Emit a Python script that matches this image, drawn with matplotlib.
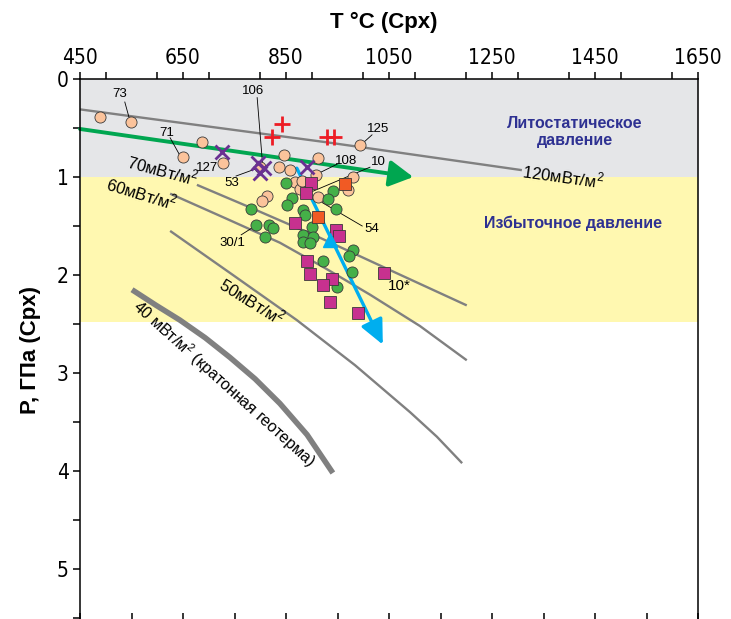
import numpy as np
import matplotlib.pyplot as plt
from matplotlib import font_manager
from matplotlib.ticker import MultipleLocator

plt.rcParams['font.family'] = ['Liberation Sans', 'DejaVu Sans']
plt.rcParams['mathtext.fontset'] = 'custom'
plt.rcParams['mathtext.rm'] = 'Liberation Sans'

# --- geotherms (T, C ; P, GPa) ---
g120_t = [450, 935, 1308]
g120_p = [0.31, 0.65, 0.93]
g70_t = [677, 780, 916, 1052, 1201]
g70_p = [1.08, 1.31, 1.62, 1.95, 2.31]
g60_t = [625, 732, 838, 926, 1013, 1110, 1201]
g60_p = [1.17, 1.42, 1.67, 1.93, 2.20, 2.52, 2.87]
g50_t = [625, 747, 871, 984, 1091, 1143, 1192]
g50_p = [1.55, 2.00, 2.46, 2.92, 3.40, 3.65, 3.92]
g40_t = [551, 598, 644, 693, 741, 790, 838, 891, 941]
g40_p = [2.15, 2.31, 2.46, 2.64, 2.84, 3.06, 3.31, 3.63, 4.02]

# --- samples ---
peach_t = [489, 549, 687, 650, 728, 800, 846, 836, 858, 912, 867, 908, 877,
           912, 813, 803, 994, 980, 970, 881]
peach_p = [0.39, 0.44, 0.64, 0.80, 0.86, 0.90, 0.78, 0.90, 0.93, 0.81, 1.05,
           0.98, 1.12, 1.20, 1.19, 1.24, 0.67, 1.00, 1.13, 1.04]
green_t = [850, 862, 852, 883, 887, 782, 792, 817, 825, 809, 941, 932, 947,
           900, 883, 902, 883, 897, 980, 972, 922, 978, 949]
green_p = [1.06, 1.21, 1.29, 1.34, 1.39, 1.33, 1.49, 1.49, 1.52, 1.61, 1.14,
           1.22, 1.33, 1.51, 1.59, 1.61, 1.66, 1.67, 1.74, 1.81, 1.86, 1.97,
           2.12]
mag_t = [899, 889, 867, 947, 953, 891, 897, 939, 922, 935, 990, 1040]
mag_p = [1.06, 1.16, 1.47, 1.54, 1.60, 1.86, 1.99, 2.04, 2.10, 2.28, 2.39,
         1.98]
orsq_t = [965, 912]
orsq_p = [1.07, 1.41]
plus_t = [842, 823, 930, 943]
plus_p = [0.46, 0.59, 0.59, 0.59]
xm_t = [726, 796, 807, 800, 891]
xm_p = [0.745, 0.86, 0.91, 0.96, 0.90]
tri_t = [935]
tri_p = [1.64]

# trends
green_arrow = [(450, 0.51), (1097, 1.00)]
blue_arrow = [(871, 0.91), (1038, 2.71)]

# sample labels: text, label pos, leader start, leader end
lab_txt = ['73', '71', '127', '106', '53', '125', '108', '10', '54', '30/1', '10*']
lab_t = [528, 619, 697, 786, 745, 1029, 966, 1029, 1017, 745, 1070]
lab_p = [0.15, 0.55, 0.91, 0.12, 1.06, 0.51, 0.84, 0.85, 1.53, 1.67, 2.11]
lab_fs = [9.5] * 10 + [11]
lead = [((537, 0.235), (545, 0.388)),
        ((625, 0.60), (644, 0.78)),
        None,
        ((794, 0.19), (805, 0.90)),
        ((753, 0.99), (800, 0.90)),
        ((1017, 0.57), (998, 0.66)),
        ((949, 0.87), (914, 0.96)),
        ((1013, 0.90), (900, 1.15)),
        ((998, 1.50), (920, 1.26)),
        ((763, 1.59), (790, 1.50)),
        None]

fig = plt.figure(figsize=(7.31, 6.19), dpi=100)
ax = fig.add_axes([80 / 731, -1 / 619, 618 / 731, 541 / 619])
ax.set_xlim(450, 1650)
ax.set_ylim(5.52, 0)

ax.axhspan(0, 1, color='#e5e6e8', lw=0, zorder=0)
ax.axhspan(1, 2.48, color='#fff8b0', lw=0, zorder=0)

gc = '#808080'
for t, p in [(g120_t, g120_p), (g70_t, g70_p), (g60_t, g60_p), (g50_t, g50_p)]:
    ax.plot(t, p, color=gc, lw=1.7, zorder=1, solid_capstyle='butt')
ax.plot(g40_t, g40_p, color=gc, lw=4, zorder=1, solid_capstyle='butt')

ax.text(1388, 0.99, '120мВт/м$^2$', fontsize=12, rotation=-8, ha='center', va='center')
ax.text(611, 0.93, '70мВт/м$^2$', fontsize=12, rotation=-15, ha='center', va='center')
ax.text(570, 1.17, '60мВт/м$^2$', fontsize=12, rotation=-17, ha='center', va='center')
ax.text(784, 2.26, '50мВт/м$^2$', fontsize=12, rotation=-32, ha='center', va='center')
ax.text(730, 3.11, '40 мВт/м$^2$ (кратонная геотерма)', fontsize=11.5, rotation=-42,
        ha='center', va='center')

ax.text(1411, 0.54, 'Литостатическое\nдавление', fontsize=11.5, fontweight='bold',
        color='#2e3192', ha='center', va='center', linespacing=1.2)
ax.text(1407, 1.47, 'Избыточное давление', fontsize=11.5, fontweight='bold',
        color='#2e3192', ha='center', va='center')

# arrows
ax.annotate('', xy=green_arrow[1], xytext=green_arrow[0],
            arrowprops=dict(arrowstyle='-|>,head_length=1.45,head_width=0.8',
                            mutation_scale=10, lw=2.8, color='#00a650',
                            shrinkA=0, shrinkB=0), zorder=2)
ax.annotate('', xy=blue_arrow[1], xytext=blue_arrow[0],
            arrowprops=dict(arrowstyle='-|>,head_length=1.5,head_width=0.7',
                            mutation_scale=10, lw=2.4, color='#00aeef',
                            shrinkA=0, shrinkB=0), zorder=2)

for txt, t, p, fs, ld in zip(lab_txt, lab_t, lab_p, lab_fs, lead):
    ax.text(t, p, txt, fontsize=fs, ha='center', va='center', zorder=6)
    if ld:
        ax.plot([ld[0][0], ld[1][0]], [ld[0][1], ld[1][1]], color='k', lw=0.6, zorder=2)

ec = '#3a3a3a'
ax.plot(peach_t, peach_p, 'o', ms=8, mfc='#fbc39b', mec=ec, mew=0.6, zorder=3)
ax.plot(green_t, green_p, 'o', ms=8, mfc='#45b048', mec=ec, mew=0.6, zorder=3)
ax.plot(mag_t, mag_p, 's', ms=8.3, mfc='#c7318f', mec=ec, mew=0.6, zorder=4)
ax.plot(orsq_t, orsq_p, 's', ms=8.3, mfc='#f15a24', mec=ec, mew=0.6, zorder=4)
ax.plot(plus_t, plus_p, '+', ms=11, mec='#ed1c24', mew=2, zorder=5)
ax.plot(xm_t, xm_p, 'x', ms=9.5, mec='#6a3092', mew=2, zorder=5)
ax.plot(tri_t, tri_p, '^', ms=10, mfc='#00aeef', mec='#00aeef', zorder=5)

# axes, ticks
ax.xaxis.tick_top()
ax.xaxis.set_label_position('top')
ax.set_xticks(np.arange(450, 1651, 200))
ax.xaxis.set_minor_locator(MultipleLocator(100))
ax.yaxis.set_major_locator(MultipleLocator(1))
ax.yaxis.set_minor_locator(MultipleLocator(0.5))
ax.tick_params(which='both', direction='out', length=5, width=1.1, pad=3)
ax.tick_params(axis='x', which='both', bottom=False, top=True)

# tick labels in a narrow face if one is installed
names = {(f.name, f.stretch) for f in font_manager.fontManager.ttflist}
tick_font = dict(family='Liberation Sans', size=15.5)
if any(n == 'Liberation Sans Narrow' for n, s in names):
    tick_font = dict(family='Liberation Sans Narrow', size=16.5)
elif any(n == 'DejaVu Sans' and s == 'condensed' for n, s in names):
    tick_font = dict(family='DejaVu Sans', stretch='condensed', size=15)
for lab in ax.get_xticklabels() + ax.get_yticklabels():
    lab.set_fontproperties(font_manager.FontProperties(**tick_font))
for s in ax.spines.values():
    s.set_linewidth(1.1)

sec = ax.secondary_xaxis('bottom')
sec.set_xticks(np.arange(450, 1651, 100))
sec.set_xticklabels([])
sec.tick_params(direction='in', length=5, width=1.1)

ax.set_xlabel('T °C (Cpx)', fontsize=16, fontweight='bold')
ax.xaxis.set_label_coords(0.491, 1.105)
ax.xaxis.label.set_va('center')
ax.set_ylabel('P, ГПа (Cpx)', fontsize=16, fontweight='bold')
ax.yaxis.set_label_coords(-0.063, 0.5)

plt.savefig('out.png', dpi=100)
